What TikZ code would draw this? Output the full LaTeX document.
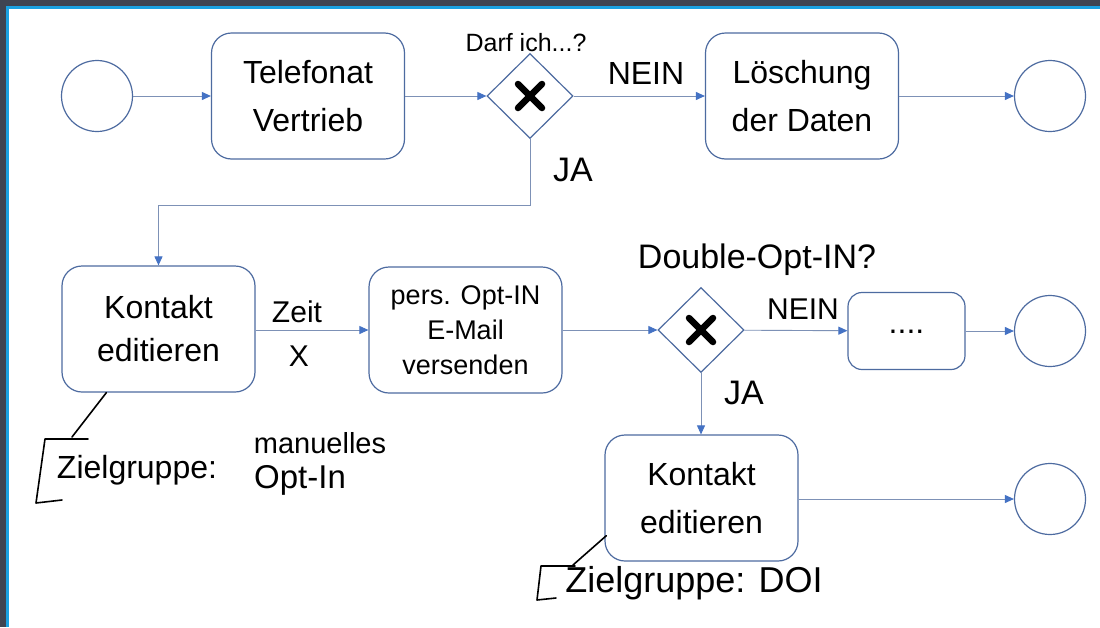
\documentclass[tikz,border=0pt]{standalone}
\usepackage{fontspec}
\setmainfont{Liberation Sans}
\usetikzlibrary{shapes.geometric,arrows.meta,calc}
\definecolor{shapeblue}{RGB}{77,107,160}
\definecolor{flowline}{RGB}{125,145,182}
\definecolor{arrowblue}{RGB}{68,114,196}
\definecolor{framegray}{RGB}{63,68,82}
\definecolor{frameblue}{RGB}{27,161,226}
\tikzset{
  task/.style={draw=shapeblue, line width=1.2pt, rounded corners=20pt, minimum width=193pt, minimum height=126pt, align=center, fill=white, inner sep=0pt, font=\fontsize{32}{48}\selectfont},
  smalltask/.style={task, minimum width=117pt, minimum height=77pt, rounded corners=14pt},
  evt/.style={circle, draw=shapeblue, line width=1.2pt, minimum size=71pt, inner sep=0pt, fill=white},
  gw/.style={diamond, draw=shapeblue, line width=1.2pt, minimum width=86pt, minimum height=85pt, inner sep=0pt, fill=white},
  flow/.style={draw=flowline, line width=0.9pt, -{Triangle[length=9pt,width=8pt,color=arrowblue]}},
  hand/.style={inner sep=0pt, font=\fontsize{30}{36}\selectfont},
  ink/.style={draw=black, line width=1.6pt, line cap=round, line join=round},
  gwx/.style={draw=black, line width=6.5pt, line cap=round},
}
\begin{document}
\begin{tikzpicture}[x=1pt,y=-1pt]
\useasboundingbox (0,0) rectangle (1100,627);
\fill[white] (0,0) rectangle (1100,627);
% screenshot frame
\fill[framegray] (0,0) rectangle (1100,6);
\fill[framegray] (0,0) rectangle (6,627);
\fill[frameblue] (6,6) rectangle (1100,9);
\fill[frameblue] (6,6) rectangle (9,627);

% row 1
\node[evt] (start) at (97,96) {};
\node[task] (t1) at (308,96) {Telefonat\\Vertrieb};
\node[gw] (g1) at (530,96) {};
\node[task] (t2) at (802,96) {Löschung\\der Daten};
\node[evt] (end1) at (1050,96) {};

% row 2
\node[task, font=\fontsize{32}{43}\selectfont] (k1) at (158.5,329) {Kontakt\\editieren};
\node[task, font=\fontsize{27}{35}\selectfont] (t3) at (465.5,330) {pers. Opt-IN\\E-Mail\\versenden};
\node[gw] (g2) at (701,330) {};
\node[smalltask] (t4) at (906.5,331) {\raisebox{-4pt}{....}};
\node[evt] (end2) at (1050,331) {};

% row 3
\node[task] (k2) at (701.5,498) {Kontakt\\editieren};
\node[evt] (end3) at (1050,499) {};

% gateway marks
\draw[gwx] ($(g1)+(-12,-12)$) -- ($(g1)+(12,12)$);
\draw[gwx] ($(g1)+(-12,12)$) -- ($(g1)+(12,-12)$);
\draw[gwx] ($(g2)+(-12,-12)$) -- ($(g2)+(12,12)$);
\draw[gwx] ($(g2)+(-12,12)$) -- ($(g2)+(12,-12)$);

% flows
\draw[flow] (start) -- (t1);
\draw[flow] (t1) -- (g1);
\draw[flow] (g1) -- (t2);
\draw[flow] (t2) -- (end1);
\draw[flow] (g1.south) -- (g1.south |- 0,205) -| (k1.north);
\draw[flow] (k1.east |- t3.west) -- (t3.west);
\draw[flow] (t3) -- (g2);
\draw[flow] (g2) -- (t4);
\draw[flow] (t4) -- (end2);
\draw[flow] (g2.south) -- (g2.south |- k2.north);
\draw[flow] (k2.east |- end3) -- (end3);

% labels
\node[hand, font=\fontsize{25}{28}\selectfont] (l1) at (526,43) {Darf ich...?};
\node[hand, font=\fontsize{32}{36}\selectfont] (l2) at (646,73) {NEIN};
\node[hand, font=\fontsize{34}{36}\selectfont] (l3) at (573,170) {JA};
\node[hand] (l4) at (297,312) {Zeit};
\node[hand] (l5) at (299,356) {X};
\node[hand, font=\fontsize{34}{36}\selectfont] (l6) at (757,260) {Double-Opt-IN?};
\node[hand, font=\fontsize{30}{36}\selectfont] (l7) at (803,309) {NEIN};
\node[hand, font=\fontsize{34}{36}\selectfont] (l8) at (744,393) {JA};

% annotation 1
\coordinate (a1) at (72,437);
\draw[ink] ($(k1.south west)+(45,0)$) -- (a1);
\draw[ink] (88,439) -- (45,439) -- (36,503) -- (62,500);
\node[hand, font=\fontsize{32}{36}\selectfont] (z1) at (137,470) {Zielgruppe:};
\node[hand, font=\fontsize{29}{36}\selectfont] (z2) at (320,443) {manuelles};
\node[hand, font=\fontsize{33}{36}\selectfont] (z3) at (300,480) {Opt-In};

% annotation 2
\coordinate (a2) at (573,565);
\draw[ink] ($(k2.south west)+(2,-26)$) -- (a2);
\draw[ink] (575,566) -- (541,566) -- (537,600) -- (556,598);
\node[hand, font=\fontsize{36}{36}\selectfont] (z4) at (694,583) {Zielgruppe: DOI};
\end{tikzpicture}
\end{document}
